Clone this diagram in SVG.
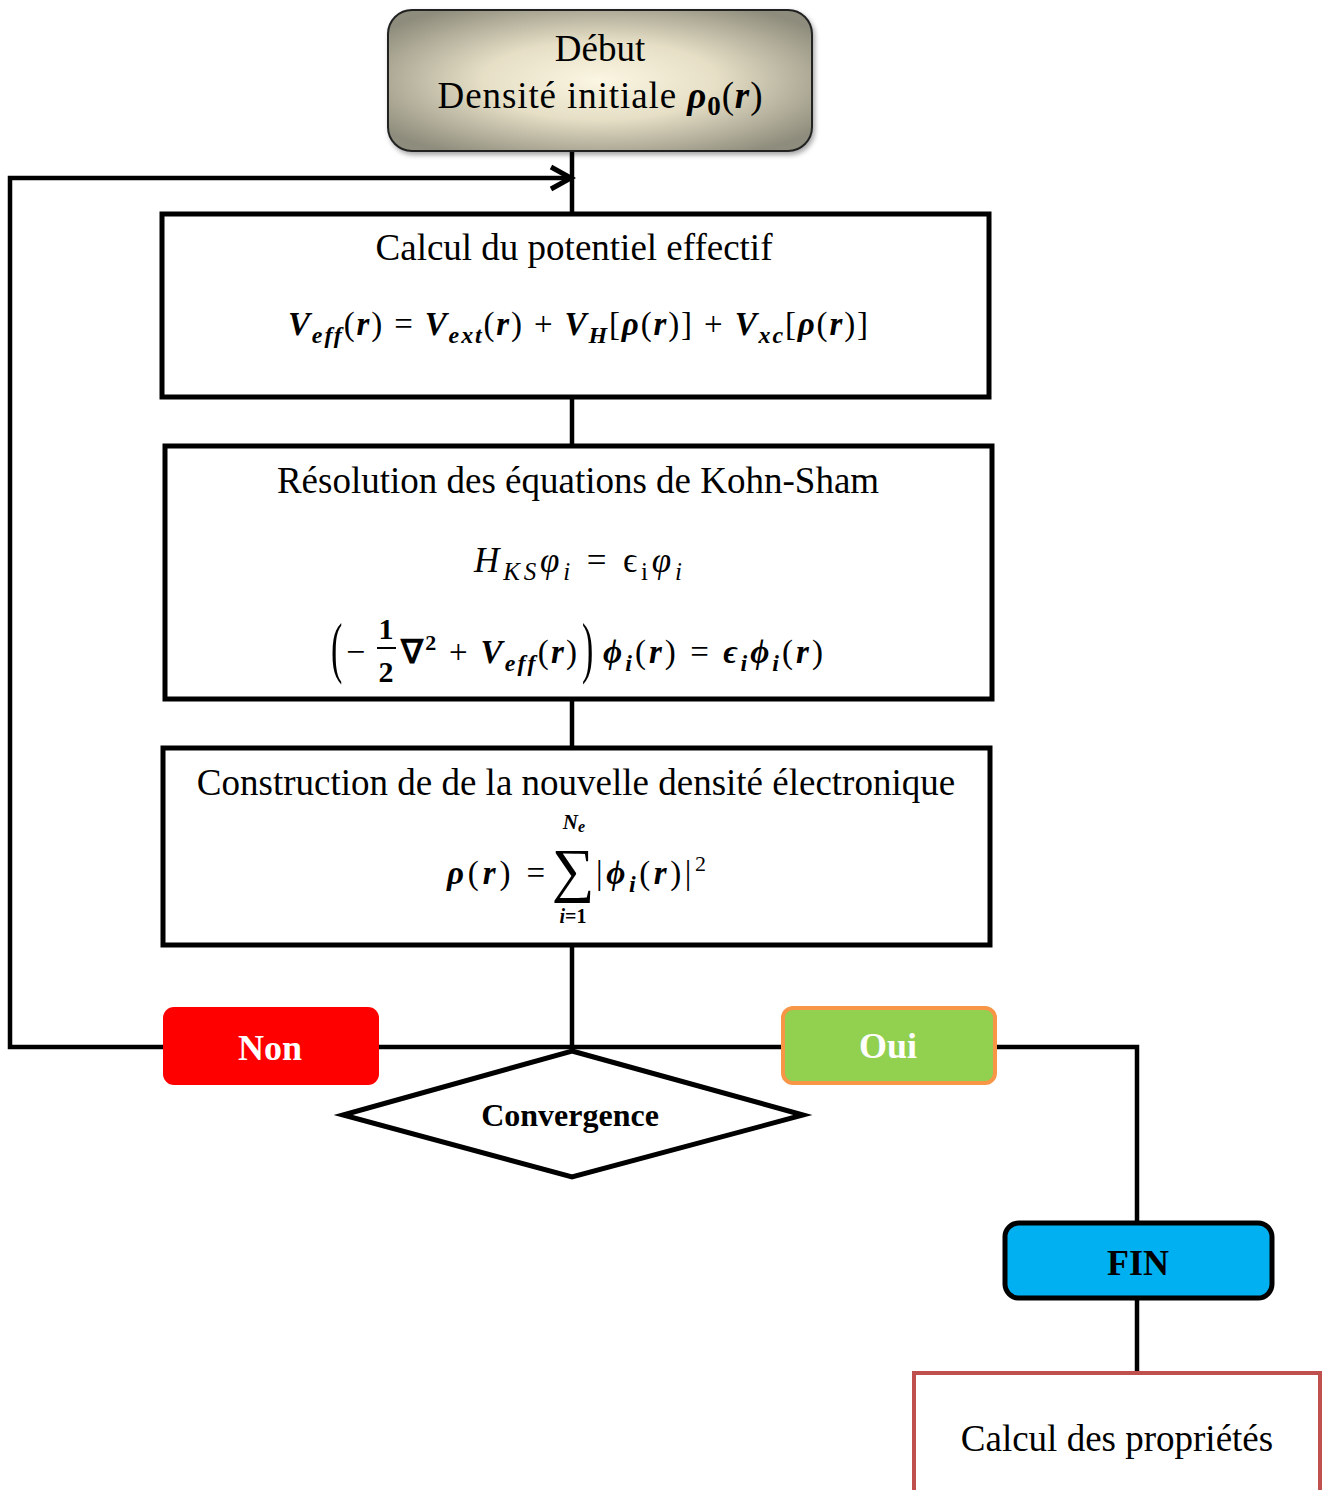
<svg xmlns="http://www.w3.org/2000/svg" width="1328" height="1490" viewBox="0 0 1328 1490">
<style>
.t{font-family:"Liberation Serif","Times New Roman",serif;fill:#000}
.m{font-family:"Liberation Serif","Times New Roman",serif;fill:#000}
.bi{font-weight:bold;font-style:italic}
.it{font-style:italic}
.b{font-weight:bold}
.box{fill:#fff;stroke:#000;stroke-width:5}
.ln{fill:none;stroke:#000;stroke-width:4.5}
.lbl{font-family:"Liberation Serif","Times New Roman",serif;font-weight:bold;text-anchor:middle}
</style>
<defs>
<radialGradient id="g1" cx="0.5" cy="0.5" r="0.62">
<stop offset="0" stop-color="#FBF6E2"/>
<stop offset="0.45" stop-color="#E6DFC6"/>
<stop offset="1" stop-color="#8E8C7C"/>
</radialGradient>
<filter id="sh" x="-10%" y="-10%" width="125%" height="130%">
<feDropShadow dx="2" dy="3" stdDeviation="2.5" flood-color="#000" flood-opacity="0.35"/>
</filter>
<marker id="arr" markerWidth="30" markerHeight="30" refX="25" refY="15" orient="auto" markerUnits="userSpaceOnUse">
<path d="M5,4 L25,15 L5,26" fill="none" stroke="#000" stroke-width="5"/>
</marker>
</defs>

<g id="connectors">
<line class="ln" x1="572" y1="151" x2="572" y2="214"/>
<polyline class="ln" points="572,1047 10,1047 10,178 571,178" marker-end="url(#arr)"/>
<line class="ln" x1="572" y1="397" x2="572" y2="446"/>
<line class="ln" x1="572" y1="699" x2="572" y2="748"/>
<line class="ln" x1="572" y1="945" x2="572" y2="1050"/>
<polyline class="ln" points="572,1047 1137,1047 1137,1222"/>
<line class="ln" x1="1137" y1="1298" x2="1137" y2="1372"/>
</g>

<g id="start">
<rect x="388" y="10" width="424" height="141" rx="24" fill="url(#g1)" stroke="#222" stroke-width="2" filter="url(#sh)"/>
<text class="t" x="600" y="61" font-size="37" text-anchor="middle">Début</text>
<text class="t" x="600" y="108" font-size="37" text-anchor="middle" textLength="325" lengthAdjust="spacing">Densité initiale <tspan class="bi">ρ</tspan><tspan class="b" font-size="27" dy="7">0</tspan><tspan dy="-7">(</tspan><tspan class="bi">r</tspan>)</text>
</g>

<g id="potentiel">
<rect class="box" x="162" y="214" width="827" height="183"/>
<text class="t" x="574" y="260" font-size="37" text-anchor="middle">Calcul du potentiel effectif</text>
<text class="m" x="288" y="335" font-size="33" textLength="580" lengthAdjust="spacing"><tspan class="bi">V</tspan><tspan class="bi" font-size="24" dy="8">eff</tspan><tspan dy="-8">(</tspan><tspan class="bi">r</tspan>) = <tspan class="bi">V</tspan><tspan class="bi" font-size="24" dy="8">ext</tspan><tspan dy="-8">(</tspan><tspan class="bi">r</tspan>) + <tspan class="bi">V</tspan><tspan class="bi" font-size="24" dy="8">H</tspan><tspan dy="-8">[</tspan><tspan class="bi">ρ</tspan>(<tspan class="bi">r</tspan>)] + <tspan class="bi">V</tspan><tspan class="bi" font-size="24" dy="8">xc</tspan><tspan dy="-8">[</tspan><tspan class="bi">ρ</tspan>(<tspan class="bi">r</tspan>)]</text>
</g>

<g id="kohnsham">
<rect class="box" x="165" y="446" width="827" height="253"/>
<text class="t" x="578" y="493" font-size="37" text-anchor="middle">Résolution des équations de Kohn-Sham</text>
<text class="m" x="474" y="572" font-size="35" textLength="208" lengthAdjust="spacing"><tspan class="it">H</tspan><tspan class="it" font-size="25" dy="8">KS</tspan><tspan class="it" dy="-8">φ</tspan><tspan class="it" font-size="25" dy="8">i</tspan><tspan dy="-8"> = ϵ</tspan><tspan font-size="25" dy="8">i</tspan><tspan class="it" dy="-8">φ</tspan><tspan class="it" font-size="25" dy="8">i</tspan></text>
<text class="m" font-size="34" transform="translate(331,670) scale(1,2)">(</text>
<text class="m" x="346" y="663" font-size="34">−</text>
<text class="m b" x="386" y="639" font-size="30" text-anchor="middle">1</text>
<line x1="377" y1="648" x2="396" y2="648" stroke="#000" stroke-width="2"/>
<text class="m b" x="386" y="682" font-size="30" text-anchor="middle">2</text>
<text class="m" x="401" y="663" font-size="33" textLength="176" lengthAdjust="spacing"><tspan class="b">∇</tspan><tspan class="b" font-size="22" dy="-13">2</tspan><tspan dy="13"> + </tspan><tspan class="bi">V</tspan><tspan class="bi" font-size="24" dy="8">eff</tspan><tspan dy="-8">(</tspan><tspan class="bi">r</tspan>)</text>
<text class="m" font-size="34" transform="translate(582,670) scale(1,2)">)</text>
<text class="m" x="603" y="663" font-size="33" textLength="220" lengthAdjust="spacing"><tspan class="bi">ϕ</tspan><tspan class="bi" font-size="24" dy="8">i</tspan><tspan dy="-8">(</tspan><tspan class="bi">r</tspan>) = <tspan class="bi">ϵ</tspan><tspan class="bi" font-size="24" dy="8">i</tspan><tspan class="bi" dy="-8">ϕ</tspan><tspan class="bi" font-size="24" dy="8">i</tspan><tspan dy="-8">(</tspan><tspan class="bi">r</tspan>)</text>
</g>

<g id="densite">
<rect class="box" x="163" y="748" width="827" height="197"/>
<text class="t" x="576" y="795" font-size="37" text-anchor="middle">Construction de de la nouvelle densité électronique</text>
<text class="m" x="447" y="884" font-size="33" textLength="98" lengthAdjust="spacing"><tspan class="bi">ρ</tspan>(<tspan class="bi">r</tspan>) =</text>
<text class="m" x="573" y="890" font-size="60" text-anchor="middle">∑</text>
<text class="m bi" x="574" y="829" font-size="21" text-anchor="middle">N<tspan font-size="16" dy="3">e</tspan></text>
<text class="m bi" x="573" y="923" font-size="20" text-anchor="middle">i<tspan font-style="normal">=1</tspan></text>
<text class="m" x="596" y="884" font-size="33" textLength="110" lengthAdjust="spacing">|<tspan class="bi">ϕ</tspan><tspan class="bi" font-size="24" dy="8">i</tspan><tspan dy="-8">(</tspan><tspan class="bi">r</tspan>)|<tspan font-size="22" dy="-13">2</tspan></text>
</g>

<g id="non">
<rect x="163" y="1007" width="216" height="78" rx="11" fill="#FF0000"/>
<text class="lbl" x="270" y="1060" font-size="36" fill="#fff">Non</text>
</g>

<g id="oui">
<rect x="783" y="1008" width="212" height="75" rx="10" fill="#92D050" stroke="#F79646" stroke-width="4"/>
<text class="lbl" x="888" y="1058" font-size="36" fill="#fff">Oui</text>
</g>

<g id="convergence">
<polygon points="572,1051 803,1115 572,1177 343,1115" fill="#fff" stroke="#000" stroke-width="5"/>
<text class="lbl" x="570" y="1126" font-size="32" fill="#000">Convergence</text>
</g>

<g id="fin">
<rect x="1005" y="1223" width="267" height="75" rx="14" fill="#00B0F0" stroke="#000" stroke-width="5"/>
<text class="lbl" x="1138" y="1275" font-size="36" fill="#000">FIN</text>
</g>

<g id="proprietes">
<rect x="914" y="1373" width="406" height="140" fill="#fff" stroke="#C0504D" stroke-width="4"/>
<text class="t" x="1117" y="1451" font-size="37" text-anchor="middle">Calcul des propriétés</text>
</g>
</svg>
